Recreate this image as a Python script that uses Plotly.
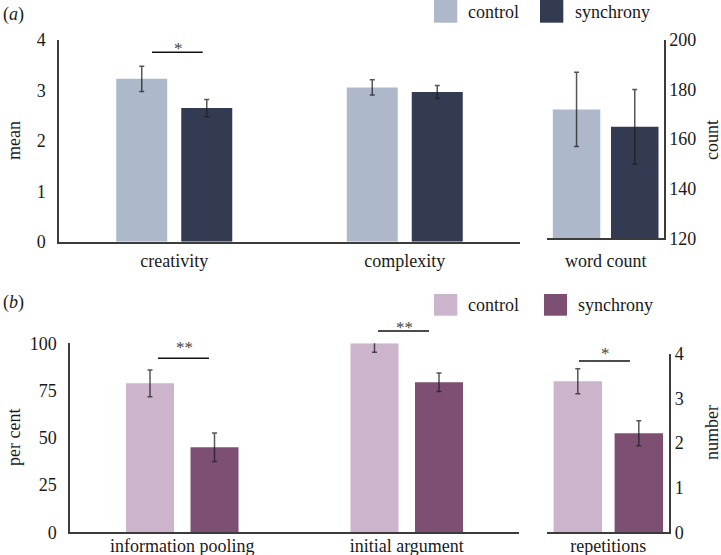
import plotly.graph_objects as go

# ---------------- data ----------------
cats_a = ["creativity", "complexity"]
ctrl_a = [3.23, 3.06]
ctrl_a_err = [0.25, 0.15]
sync_a = [2.65, 2.97]
sync_a_err = [0.17, 0.13]

cats_wc = ["word count"]
ctrl_wc = [172]
ctrl_wc_err = [15]
sync_wc = [165]
sync_wc_err = [15]

cats_b = ["information pooling", "initial argument"]
ctrl_b = [78.8, 100]
ctrl_b_err = [7.1, 4.7]
sync_b = [45.0, 79.4]
sync_b_err = [7.5, 4.9]

cats_rep = ["repetitions"]
ctrl_rep = [3.39]
ctrl_rep_err = [0.28]
sync_rep = [2.22]
sync_rep_err = [0.28]

ticks_a = [0, 1, 2, 3, 4]
ticks_wc = [120, 140, 160, 180, 200]
ticks_b = [0, 25, 50, 75, 100]
ticks_rep = [0, 1, 2, 3, 4]

legend_labels = ["control", "synchrony"]

# ---------------- style ----------------
W, H = 721, 555
FONT = "Liberation Serif"
TXT = "#1a1a1a"
AX = "#3c3c3c"
A_CTRL, A_SYNC = "#adb8cb", "#323b52"
B_CTRL, B_SYNC = "#cdb4cd", "#7d5073"
ERR = "rgba(30,30,30,0.75)"


def X(px):
    return px / W


def Y(py):
    return 1 - py / H


fig = go.Figure()


def add_pair(cats, c, ce, s, se, xa, ya, col_c, col_s, cat_px, bar_px, gap_px):
    w = bar_px / cat_px
    g = gap_px / cat_px / 2
    for vals, err, col, off in [(c, ce, col_c, -(w + g)), (s, se, col_s, g)]:
        fig.add_trace(go.Bar(
            x=cats, y=vals, xaxis=xa, yaxis=ya, marker=dict(color=col, line=dict(width=0)),
            width=[w] * len(cats), offset=[off] * len(cats), showlegend=False,
            error_y=dict(type="data", array=err, visible=True, color=ERR,
                         thickness=1.5, width=2.5),
            hoverinfo="x+y",
        ))


add_pair(cats_a, ctrl_a, ctrl_a_err, sync_a, sync_a_err, "x", "y", A_CTRL, A_SYNC, 230.5, 51, 14)
add_pair(cats_wc, ctrl_wc, ctrl_wc_err, sync_wc, sync_wc_err, "x2", "y2", A_CTRL, A_SYNC, 116.7, 47.5, 10.7)
add_pair(cats_b, ctrl_b, ctrl_b_err, sync_b, sync_b_err, "x3", "y3", B_CTRL, B_SYNC, 224.5, 48, 16.5)
add_pair(cats_rep, ctrl_rep, ctrl_rep_err, sync_rep, sync_rep_err, "x4", "y4", B_CTRL, B_SYNC, 122, 48.4, 12.6)

tickfont = dict(family=FONT, size=18, color=TXT)


def xax(dom, anchor, standoff):
    return dict(domain=[X(dom[0]), X(dom[1])], anchor=anchor, showline=True, linecolor=AX,
                linewidth=1.5, showgrid=False, zeroline=False, ticks="", tickfont=tickfont,
                ticklabelstandoff=standoff, fixedrange=True, automargin=False)


def yax(dom, anchor, rng, tv, side, standoff):
    return dict(domain=[Y(dom[1]), Y(dom[0])], anchor=anchor, range=rng, tickvals=tv,
                showline=True, linecolor=AX, linewidth=1.5, showgrid=False, zeroline=False,
                ticks="", tickfont=tickfont, side=side, ticklabelstandoff=standoff,
                fixedrange=True, automargin=False)


fig.update_layout(
    width=W, height=H, margin=dict(l=0, r=0, t=0, b=0, pad=0),
    paper_bgcolor="white", plot_bgcolor="white", barmode="overlay",
    font=dict(family=FONT, size=18, color=TXT), showlegend=False,
    xaxis=xax((59, 520), "y", 2),
    yaxis=yax((40, 241.7), "x", [0, 4], ticks_a, "left", 8),
    xaxis2=xax((547.3, 664), "y2", 5),
    yaxis2=yax((40, 238.3), "x2", [120, 200], ticks_wc, "right", 0),
    xaxis3=xax((70, 519), "y3", -4),
    yaxis3=yax((343.3, 532.3), "x3", [0, 100], ticks_b, "left", 8),
    xaxis4=xax((547.3, 669.3), "y4", -4),
    yaxis4=yax((354, 532.3), "x4", [0, 4], ticks_rep, "right", 0),
)

ann = []
shapes = []


def text(px, py, t, size=18, angle=0, color=TXT, xanchor="center"):
    ann.append(dict(x=X(px), y=Y(py), xref="paper", yref="paper", text=t, showarrow=False,
                    textangle=angle, xanchor=xanchor, yanchor="middle",
                    font=dict(family=FONT, size=size, color=color)))


# panel labels
text(1, 15, "(<i>a</i>)", xanchor="left")
text(1, 302, "(<i>b</i>)", xanchor="left")

# axis titles
text(14, 140, "mean", angle=-90)
text(712, 140, "count", angle=-90)
text(14, 438, "per cent", angle=-90)
text(712, 433, "number", angle=-90)

# legends
for (y0, y1, ty, cols, xs) in [
    (-2, 22.7, 11.5, (A_CTRL, A_SYNC), ((434, 457.3, 466), (540, 563.3, 573))),
    (294, 315.7, 305, (B_CTRL, B_SYNC), ((434, 457.3, 466), (544, 567, 576))),
]:
    for lab, col, (sx0, sx1, tx) in zip(legend_labels, cols, xs):
        shapes.append(dict(type="rect", xref="paper", yref="paper", x0=X(sx0), x1=X(sx1),
                           y0=Y(y1), y1=Y(y0), fillcolor=col, line=dict(width=0)))
        text(tx, ty, lab, xanchor="left")

# significance markers
for (x0, x1, ly, sx, sy, star) in [
    (152, 202.7, 52.3, 178, 48, "*"),
    (158, 209, 358.3, 184, 347, "**"),
    (378, 429, 331, 404, 327, "**"),
    (579, 630, 361, 605, 353, "*"),
]:
    shapes.append(dict(type="line", xref="paper", yref="paper", x0=X(x0), x1=X(x1),
                       y0=Y(ly), y1=Y(ly), line=dict(color="#111", width=1.5)))
    text(sx, sy, star, size=17, color="#444")

fig.update_layout(annotations=ann, shapes=shapes)
fig.write_html(
    "out.html",
    config={"displayModeBar": False},
    post_script="document.body.style.margin='0';document.body.style.overflow='hidden';",
)
